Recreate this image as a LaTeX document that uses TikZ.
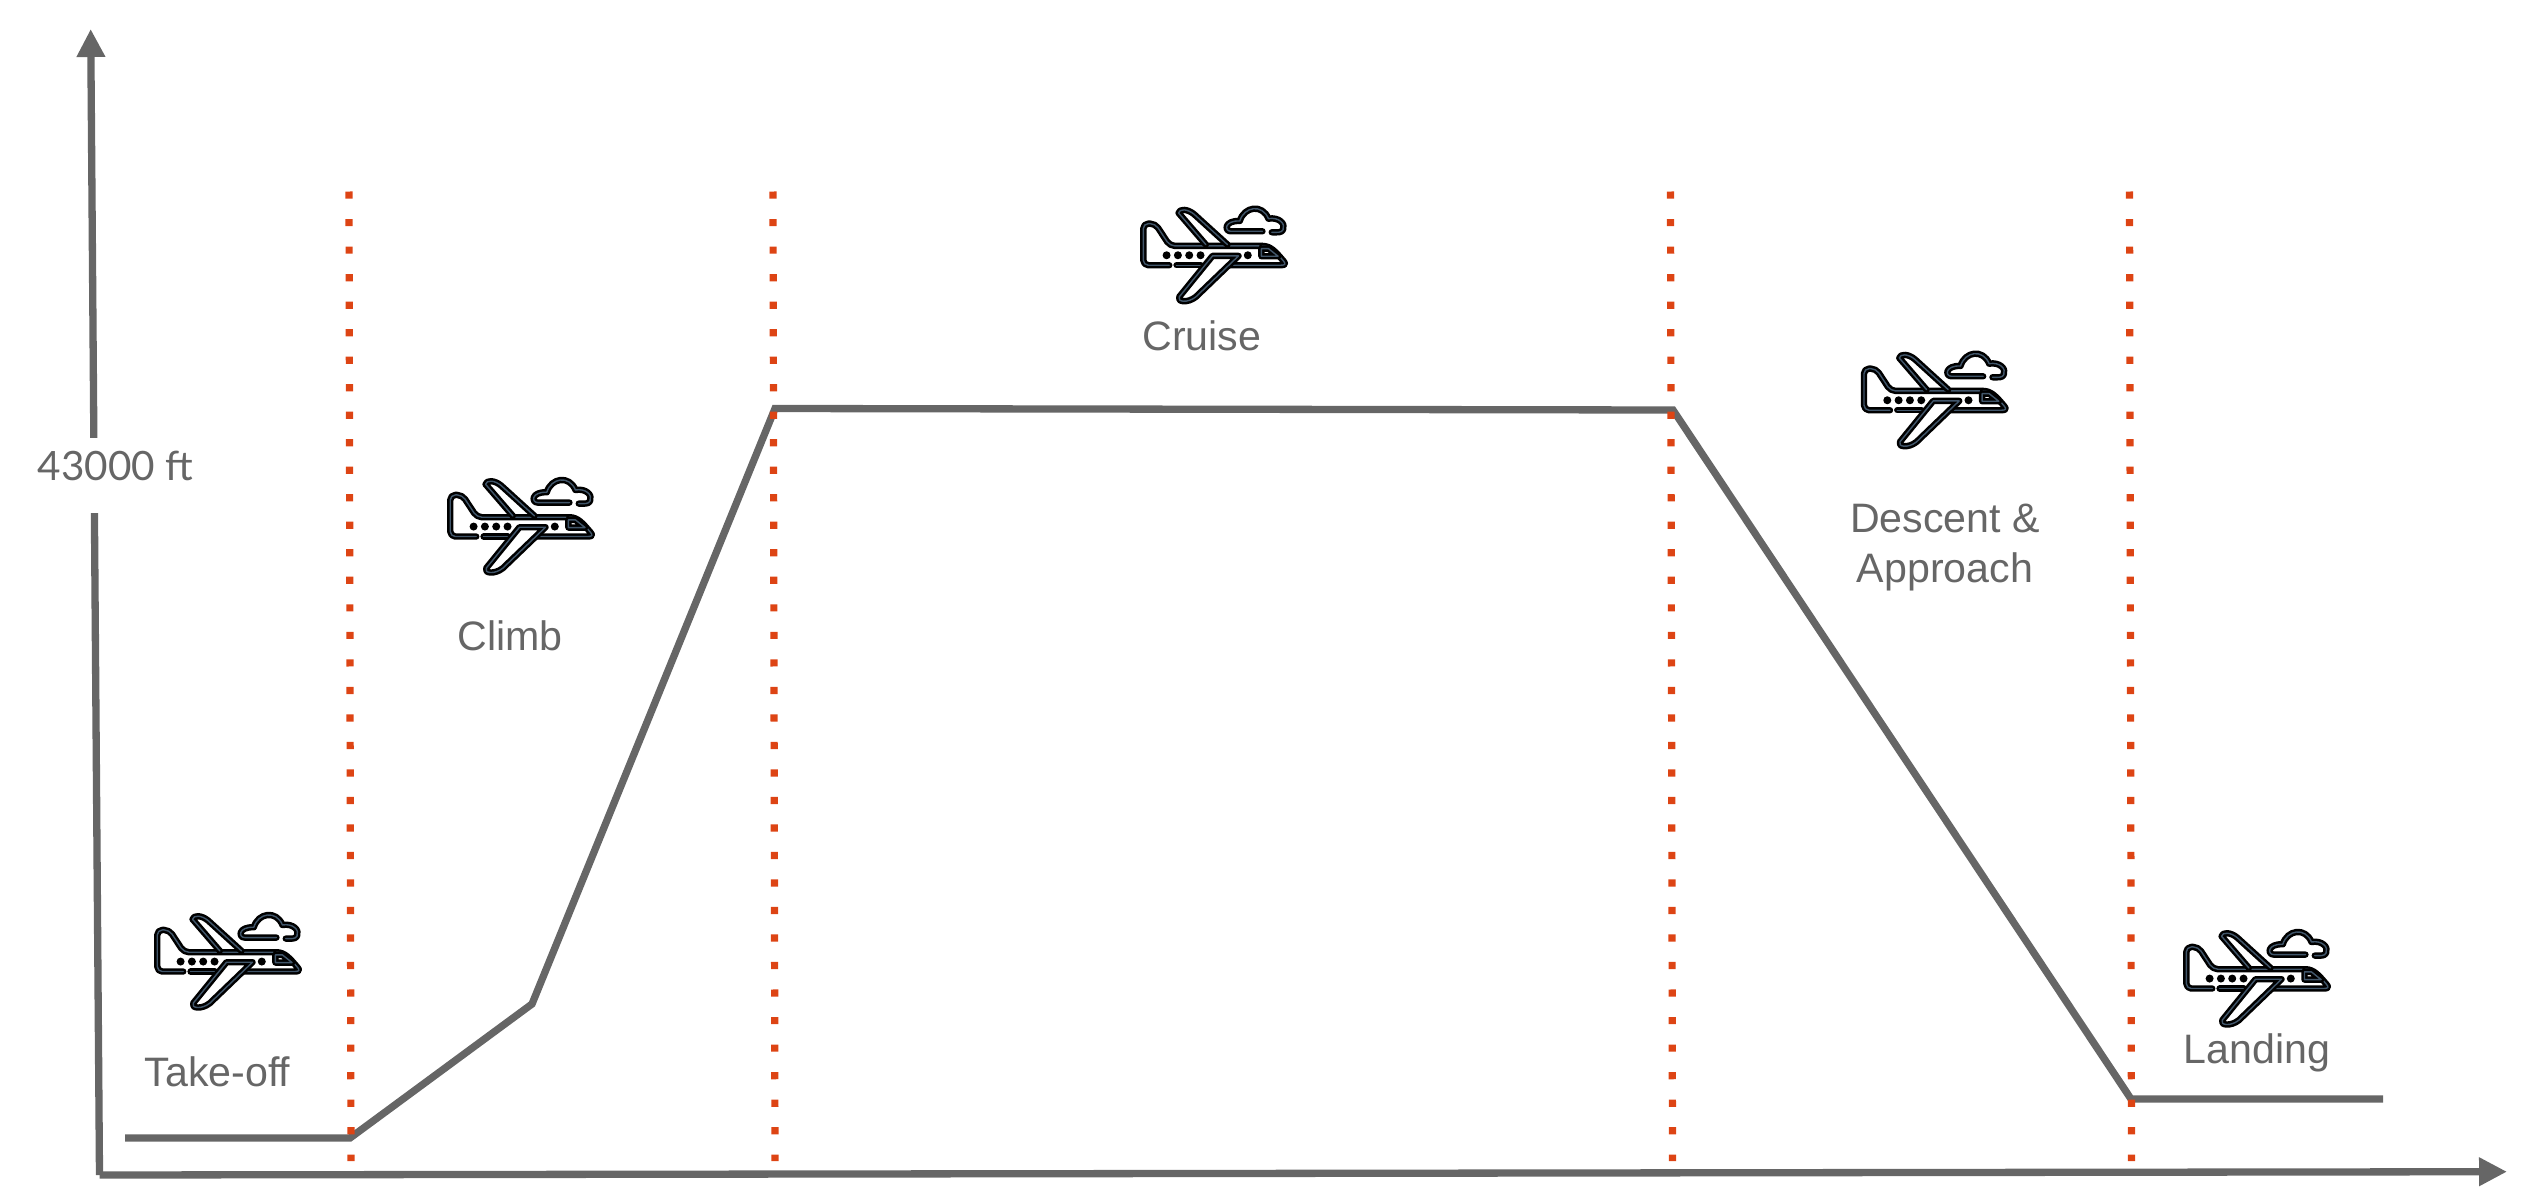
\documentclass[tikz,border=0pt]{standalone}
\usepackage{fontspec}
\setmainfont{Liberation Sans}
\newfontfamily\axisfont{Lato}
\usetikzlibrary{arrows.meta}
\definecolor{axisgray}{HTML}{666666}
\definecolor{phaseorange}{HTML}{DD4414}
\definecolor{iconcore}{HTML}{41566A}

\begin{document}
\begin{tikzpicture}[
    x=0.01cm, y=-0.01cm,
    % --- Styles ---
    axis line/.style={draw=axisgray, line width=0.073cm, -{Triangle[length=0.28cm, width=0.27cm]}},
    % White box opens the gap in the vertical axis
    axis label/.style={font=\axisfont\fontsize{11.5}{14}\selectfont, text=axisgray, fill=white, inner sep=0pt, anchor=base, text height=0.42cm, text depth=0.33cm, minimum width=1.62cm},
    % Altitude profile of the flight
    profile line/.style={draw=axisgray, line width=0.073cm, line join=miter},
    % Orange dots between the phases
    phase line/.style={draw=phaseorange, line width=0.072cm, dash pattern=on 0.072cm off 0.203cm},
    phase label/.style={font=\fontsize{11.7}{14.2}\selectfont, text=axisgray, anchor=base, inner sep=0pt, align=center},
    icon line/.style={draw=black, double=iconcore, line width=0.025cm, double distance=0.014cm, line cap=round, line join=round},
    icon dot/.style={fill=black},
    planeicon/.pic={
        % Icon coordinates run at three units per picture unit
        \begin{scope}[x=0.0033333cm, y=-0.0033333cm]
            % Tail and fuselage
            \draw[icon line, rounded corners=0.05cm] (160,245) -- (82,245) -- (82,120) -- (118,120) -- (162,187) -- (440,187);
            \draw[icon line] (440,187) .. controls (465,187) and (480,205) .. (503,232) .. controls (510,240) and (510,245) .. (495,245) -- (340,245);
            \draw[icon line] (182,245) -- (255,245);
            % Upper wing
            \draw[icon line] (335,183) -- (235,92) .. controls (215,75) and (190,75) .. (188,88) -- (270,183);
            % Lower wing
            \draw[icon line] (368,217) -- (290,217) -- (190,340) .. controls (182,355) and (215,360) .. (240,340) -- cycle;
            % Cockpit window
            \draw[icon line] (437,195) -- (437,218) -- (487,218) -- (458,195) -- cycle;
            % Cabin windows
            \foreach \xWin in {152,186,220,254,396} {
                \fill[icon dot] (\xWin,215) circle (0.04cm);
            }
            % Cloud
            \draw[icon line] (440,143) -- (345,143) .. controls (325,143) and (325,110) .. (372,112) .. controls (385,68) and (440,60) .. (458,105) .. controls (490,100) and (510,120) .. (502,138) .. controls (498,148) and (485,146) .. (468,146);
        \end{scope}
    }
]

%================CONFIGURATION================
\def\topDot{191.5}
\def\bottomDot{1161}
%=============================================

\useasboundingbox (0,0) rectangle (2539,1200);

% --- 1. Axes ---
\coordinate (Origin) at (99.5,1175);
\coordinate (YTip) at (90.7,29);
\coordinate (XTip) at (2507,1171.7);
\draw[axis line] (Origin) -- (YTip);
\draw[axis line] (Origin) -- (XTip);
\node[axis label] (Ceiling) at (115.5,480) {43000 ft};

% --- 2. Altitude profile ---
\coordinate (P1) at (125,1138);
\coordinate (P2) at (350,1138);
\coordinate (P3) at (532,1004);
\coordinate (P4) at (775,408.5);
\coordinate (P5) at (1673,410);
\coordinate (P6) at (2131,1099);
\coordinate (P7) at (2383,1099);
\draw[profile line] (P1) -- (P2) -- (P3) -- (P4) -- (P5) -- (P6) -- (P7);

% --- 3. Phase boundaries ---
\foreach \xTop/\xBot [count=\c] in {349/351, 773/775, 1670.5/1672.5, 2129.5/2131.5} {
    \coordinate (Top\c) at (\xTop,\topDot);
    \coordinate (Bot\c) at (\xBot,\bottomDot);
    \draw[phase line] (Top\c) -- (Bot\c);
}

% --- 4. Plane icons ---
\foreach \xIcon/\yIcon [count=\c] in {130/890, 423/455, 1116/183.7, 1836.7/328.7, 2159/907} {
    \pic (Plane\c) at (\xIcon,\yIcon) {planeicon};
}

% --- 5. Phase labels ---
\node[phase label] (TakeOff) at (217.5,1086) {Take-off};
\node[phase label] (Climb) at (510,650) {Climb};
\node[phase label] (Cruise) at (1202,350) {Cruise};
\node[phase label] (Descent) at (1945,582) {Descent \&\\Approach};
\node[phase label] (Landing) at (2257,1063) {Landing};

\end{tikzpicture}
\end{document}
